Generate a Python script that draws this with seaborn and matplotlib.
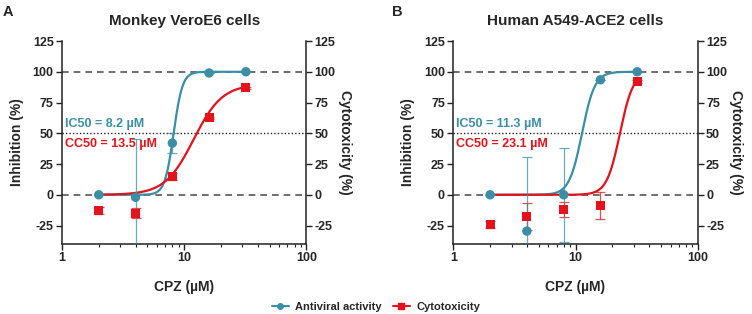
import numpy as np
import pandas as pd
import matplotlib
matplotlib.use("Agg")
import matplotlib.pyplot as plt
from matplotlib.lines import Line2D
import seaborn as sns

# concentrations tested (uM)
conc = [2, 4, 8, 16, 32]

# A - Monkey VeroE6
vero_antiviral = [0, -2, 42, 99, 100]
vero_antiviral_err = [0, 47, 8, 0, 0]
vero_cytotox = [-13, -15, 15, 62.5, 87]
vero_cytotox_err = [3, 4, 3, 1, 1]

# B - Human A549-ACE2
a549_antiviral = [0, -29.5, 0, 93.5, 100]
a549_antiviral_err = [0, 60, 38, 0, 0]
a549_cytotox = [-24, -17.5, -12, -9, 92]
a549_cytotox_err = [3, 11, 6, 11, 1]

# fitted dose-response params: (top, ec50, hill)
vero_ic_fit = (100, 8.2, 12)
vero_cc_fit = (90, 11.95, 3.7)
a549_ic_fit = (100, 11.3, 8.3)
a549_cc_fit = (100, 23.1, 8)

titles = ["Monkey VeroE6 cells", "Human A549-ACE2 cells"]
ic50_labels = ["IC50 = 8.2 µM", "IC50 = 11.3 µM"]
cc50_labels = ["CC50 = 13.5 µM", "CC50 = 23.1 µM"]
yticks = [-25, 0, 25, 50, 75, 100, 125]

teal = "#3a8fa6"
red = "#e3121b"

sns.set_style("ticks")
plt.rcParams['font.family'] = ['Liberation Sans', 'DejaVu Sans']
plt.rcParams['font.weight'] = 'bold'


def hill(x, top, ec50, h):
    return top / (1 + (ec50 / x) ** h)


fig = plt.figure(figsize=(7.52, 3.14), dpi=100)
panels = [
    (vero_antiviral, vero_antiviral_err, vero_cytotox, vero_cytotox_err, vero_ic_fit, vero_cc_fit),
    (a549_antiviral, a549_antiviral_err, a549_cytotox, a549_cytotox_err, a549_ic_fit, a549_cc_fit),
]
lefts = [0.0824, 0.6028]
xs = np.geomspace(2, 32, 300)

for i, (av, av_err, ct, ct_err, ic_fit, cc_fit) in enumerate(panels):
    ax = fig.add_axes([lefts[i], 0.2229, 0.3250, 0.6465])

    ax.axhline(0, color="#555555", lw=1.2, ls=(0, (4, 3)), zorder=1)
    ax.axhline(100, color="#555555", lw=1.2, ls=(0, (4, 3)), zorder=1)
    ax.axhline(50, color="#222222", lw=1.0, ls=(0, (1, 1.5)), zorder=1)

    curves = pd.DataFrame({
        "x": np.concatenate([xs, xs]),
        "y": np.concatenate([hill(xs, *ic_fit), hill(xs, *cc_fit)]),
        "kind": ["antiviral"] * len(xs) + ["cytotox"] * len(xs),
    })
    sns.lineplot(data=curves, x="x", y="y", hue="kind", palette=[teal, red],
                 lw=1.6, legend=False, ax=ax, zorder=3)

    ax.errorbar(conc, ct, yerr=ct_err, fmt="none", ecolor=red, alpha=0.75,
                elinewidth=0.9, capsize=3.5, capthick=0.9, zorder=4)
    ax.errorbar(conc, av, yerr=av_err, fmt="none", ecolor=teal, alpha=0.75,
                elinewidth=0.9, capsize=3.5, capthick=0.9, zorder=4)

    pts = pd.DataFrame({
        "x": conc + conc,
        "y": ct + av,
        "kind": ["cytotox"] * 5 + ["antiviral"] * 5,
    })
    sns.scatterplot(data=pts[pts.kind == "cytotox"], x="x", y="y", color=red,
                    marker="s", s=42, edgecolor="none", legend=False, ax=ax, zorder=5)
    sns.scatterplot(data=pts[pts.kind == "antiviral"], x="x", y="y", color=teal,
                    marker="o", s=46, edgecolor="none", legend=False, ax=ax, zorder=6)

    ax.set_xscale("log")
    ax.set_xlim(1, 100)
    ax.set_ylim(-40, 125)
    ax.set_yticks(yticks)
    ax.set_yticklabels([str(t) for t in yticks])
    ax.set_xticks([1, 10, 100])
    ax.set_xticklabels(["1", "10", "100"])
    ax.tick_params(axis="both", which="major", length=4.5, width=1, labelsize=9,
                   color="#222222", pad=1.5)
    ax.tick_params(axis="x", which="minor", length=2.5, width=0.8, color="#222222")
    for lab in ax.get_xticklabels() + ax.get_yticklabels():
        lab.set_fontweight("bold")
    ax.spines["top"].set_visible(False)
    ax.spines["right"].set_visible(False)
    for s in ["left", "bottom"]:
        ax.spines[s].set_linewidth(1.1)
        ax.spines[s].set_color("#222222")

    ax.set_xlabel("CPZ (µM)", fontsize=10, fontweight="bold")
    ax.xaxis.set_label_coords(0.5, -0.177)
    ax.set_ylabel("Inhibition (%)", fontsize=10, fontweight="bold")
    ax.yaxis.set_label_coords(-0.156, 0.5)

    ax2 = ax.twinx()
    ax2.set_ylim(-40, 125)
    ax2.set_yticks(yticks)
    ax2.set_yticklabels([str(t) for t in yticks], fontweight="bold")
    ax2.tick_params(axis="y", length=4.5, width=1, labelsize=9, color="#222222", pad=1.5)
    for s in ["top", "left", "bottom"]:
        ax2.spines[s].set_visible(False)
    ax2.spines["right"].set_linewidth(1.1)
    ax2.spines["right"].set_color("#222222")
    ax2.set_ylabel("Cytotoxicity (%)", fontsize=10, fontweight="bold", rotation=270)
    ax2.yaxis.set_label_coords(1.186, 0.5)

    ax.text(1.06, 57.5, ic50_labels[i], color=teal, fontsize=9, fontweight="bold", va="center")
    ax.text(1.06, 41.5, cc50_labels[i], color=red, fontsize=9, fontweight="bold", va="center")

    ax.text(0.5, 1.098, titles[i], transform=ax.transAxes, ha="center", va="center",
            fontsize=11, fontweight="bold")

fig.text(0.004, 0.985, "A", fontsize=10.5, fontweight="bold", va="top")
fig.text(0.521, 0.985, "B", fontsize=10.5, fontweight="bold", va="top")

handles = [
    Line2D([], [], color=teal, marker="o", ms=4, lw=1.5, label="Antiviral activity"),
    Line2D([], [], color=red, marker="s", ms=4, lw=1.5, label="Cytotoxicity"),
]
fig.legend(handles=handles, loc="center", bbox_to_anchor=(0.5, 0.022), ncol=2,
           frameon=False, handlelength=1.5, columnspacing=1.0,
           handletextpad=0.6, prop={"weight": "bold", "size": 8})

fig.savefig("out.png", dpi=100)
